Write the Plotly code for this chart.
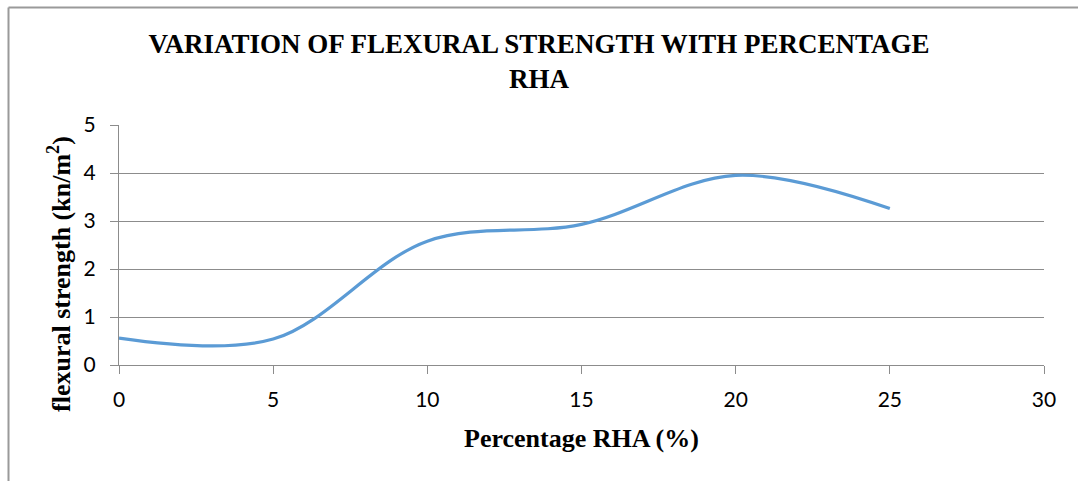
import plotly.graph_objects as go

# Flexural strength measured at each rice husk ash replacement level
rha_percent = [0, 5, 10, 15, 20, 25]
flexural_strength = [0.56, 0.54, 2.58, 2.93, 3.95, 3.26]

x_ticks = [0, 5, 10, 15, 20, 25, 30]
y_ticks = [0, 1, 2, 3, 4, 5]

W, H = 1078, 481
ML, MR, MT, MB = 119, 34, 125, 116
PW, PH = W - ML - MR, H - MT - MB

fig = go.Figure()
fig.add_trace(go.Scatter(
    x=rha_percent,
    y=flexural_strength,
    mode="lines",
    line=dict(color="#5B9BD5", width=3.2, shape="spline", smoothing=1),
    hoverinfo="x+y",
    showlegend=False,
))

serif = "Liberation Serif, Times New Roman, serif"
sans = "Lato, Carlito, Calibri, sans-serif"

# Pixel -> paper coordinate helpers
px_x = lambda p: (p - ML) / PW
px_y = lambda p: (H - MB - p) / PH

# Outer chart frame: only left and top edges fall inside the page
frame = dict(color="#9a9a9a", width=2)
shapes = [
    dict(type="line", xref="paper", yref="paper", x0=px_x(8.5), x1=px_x(W + 20),
         y0=px_y(7.5), y1=px_y(7.5), line=frame, layer="below"),
    dict(type="line", xref="paper", yref="paper", x0=px_x(8.5), x1=px_x(8.5),
         y0=px_y(7.5), y1=px_y(H + 20), line=frame, layer="below"),
]

# Vertical axis title placed as a rotated annotation
annotations = [
    dict(text="<b>flexural strength (kn/m<sup>2</sup>)</b>",
         xref="paper", yref="paper", x=px_x(59), y=px_y(274),
         xanchor="center", yanchor="middle", textangle=-90, showarrow=False,
         font=dict(family=serif, size=26, color="black")),
]

fig.update_layout(
    width=W, height=H,
    margin=dict(l=ML, r=MR, t=MT, b=MB),
    paper_bgcolor="white", plot_bgcolor="white",
    title=dict(
        text="<b>VARIATION OF FLEXURAL STRENGTH WITH PERCENTAGE<br>RHA</b>",
        font=dict(family=serif, size=27, color="black"),
        x=0.5, xref="container", xanchor="center",
        y=1 - 53 / H, yref="container", yanchor="middle",
    ),
    shapes=shapes,
    annotations=annotations,
    xaxis=dict(
        range=[0, 30], tickvals=x_ticks, ticktext=[str(v) for v in x_ticks],
        showgrid=False, zeroline=False,
        showline=True, linecolor="#8c8c8c", linewidth=1,
        ticks="outside", ticklen=8, tickcolor="#8c8c8c", tickwidth=1,
        ticklabelstandoff=8,
        tickfont=dict(family=sans, size=21, color="black"),
        title=dict(text="<b>Percentage RHA (%)</b>",
                   font=dict(family=serif, size=26, color="black"), standoff=18),
        fixedrange=True,
    ),
    yaxis=dict(
        range=[0, 5], tickvals=y_ticks, ticktext=[str(v) for v in y_ticks],
        showgrid=True, gridcolor="#8c8c8c", gridwidth=1,
        zeroline=False,
        showline=True, linecolor="#8c8c8c", linewidth=1,
        ticks="outside", ticklen=8, tickcolor="#8c8c8c", tickwidth=1,
        ticklabelstandoff=10,
        tickfont=dict(family=sans, size=21, color="black"),
        fixedrange=True,
    ),
)

fig.write_html("out.html")
